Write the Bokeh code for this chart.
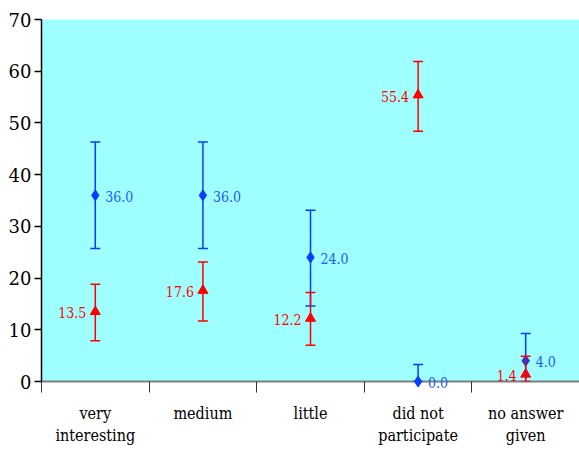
from bokeh.plotting import figure
from bokeh.models import (ColumnDataSource, Whisker, TeeHead, FixedTicker, Range1d)
from bokeh.core.properties import value
from bokeh.embed import file_html
from bokeh.resources import INLINE

# Response categories
categories = ["very\ninteresting", "medium", "little", "did not\nparticipate", "no answer\ngiven"]

# Blue series (diamonds) with error-bar limits
blue_vals = [36.0, 36.0, 24.0, 0.0, 4.0]
blue_upper = [46.3, 46.3, 33.1, 3.3, 9.3]
blue_lower = [25.7, 25.7, 14.6, 0.0, -1.0]

# Red series (triangles) with error-bar limits
red_vals = [13.5, 17.6, 12.2, 55.4, 1.4]
red_upper = [18.8, 23.1, 17.2, 61.9, 4.9]
red_lower = [7.9, 11.7, 7.0, 48.4, 0.0]

y_ticks = [0, 10, 20, 30, 40, 50, 60, 70]

AXIS_FONT_X = "DejaVu Serif Condensed"
AXIS_FONT_Y = "DejaVu Serif"
LABEL_FONT = "DejaVu Serif Condensed"
BLUE = "#0a3cff"
BLUE_TXT = "#1f5bff"
RED = "#ff0000"

xs = [i + 0.5 for i in range(len(categories))]

blue_src = ColumnDataSource(dict(
    x=xs, y=blue_vals, upper=blue_upper, lower=blue_lower,
    label=[f"{v:.1f}" for v in blue_vals]))
red_src = ColumnDataSource(dict(
    x=xs, y=red_vals, upper=red_upper, lower=red_lower,
    label=[f"{v:.1f}" for v in red_vals]))

p = figure(width=579, height=454, output_backend="svg", toolbar_location=None,
           x_range=Range1d(0, len(categories)), y_range=Range1d(0, 70),
           min_border_left=41, min_border_right=0, min_border_top=19,
           min_border_bottom=73)

p.background_fill_color = "#9ffffe"
p.border_fill_color = "white"
p.outline_line_color = None
p.xgrid.visible = False
p.ygrid.visible = False

# X axis: labels centred on categories, tick marks at category boundaries
xa = p.xaxis[0]
xa.ticker = FixedTicker(ticks=xs, minor_ticks=list(range(len(categories) + 1)))
xa.major_label_overrides = {x: c for x, c in zip(xs, categories)}
xa.major_tick_line_color = None
xa.minor_tick_in = 0
xa.minor_tick_out = 11
xa.minor_tick_line_color = "#333333"
xa.minor_tick_line_width = 1
xa.axis_line_color = "#7f7f7f"
xa.axis_line_width = 2
xa.major_label_standoff = 11
xa.major_label_text_font = AXIS_FONT_X
xa.major_label_text_font_size = "16px"
xa.major_label_text_color = "black"

# Y axis
ya = p.yaxis[0]
ya.ticker = FixedTicker(ticks=y_ticks)
ya.minor_tick_line_color = None
ya.major_tick_in = 0
ya.major_tick_out = 7
ya.major_tick_line_width = 1.5
ya.axis_line_color = "black"
ya.axis_line_width = 1.5
ya.major_label_standoff = 3
ya.major_label_text_font = AXIS_FONT_Y
ya.major_label_text_font_size = "18px"
ya.major_label_text_color = "black"

# Error bars
p.add_layout(Whisker(source=blue_src, base="x", upper="upper", lower="lower",
                     line_color=BLUE, line_width=1.5, level="overlay",
                     upper_head=TeeHead(size=10, line_color=BLUE, line_width=1.5),
                     lower_head=TeeHead(size=10, line_color=BLUE, line_width=1.5)))
p.add_layout(Whisker(source=red_src, base="x", upper="upper", lower="lower",
                     line_color=RED, line_width=1.5, level="overlay",
                     upper_head=TeeHead(size=10, line_color=RED, line_width=1.5),
                     lower_head=TeeHead(size=10, line_color=RED, line_width=1.5)))

# Markers
p.scatter("x", "y", source=red_src, marker="triangle", size=10,
          fill_color=RED, line_color=RED, level="overlay")
p.scatter("x", "y", source=blue_src, marker="diamond", size=11,
          fill_color=BLUE, line_color=BLUE, level="overlay")

# Value labels
p.text("x", "y", text="label", source=blue_src, x_offset=10, y_offset=1,
       text_font=value(LABEL_FONT), text_font_size="14px", text_color=BLUE_TXT,
       text_align="left", text_baseline="middle", level="overlay")
p.text("x", "y", text="label", source=red_src, x_offset=-9, y_offset=1,
       text_font=value(LABEL_FONT), text_font_size="14px", text_color=RED,
       text_align="right", text_baseline="middle", level="overlay")

open("out.html", "w").write(file_html(p, INLINE))
